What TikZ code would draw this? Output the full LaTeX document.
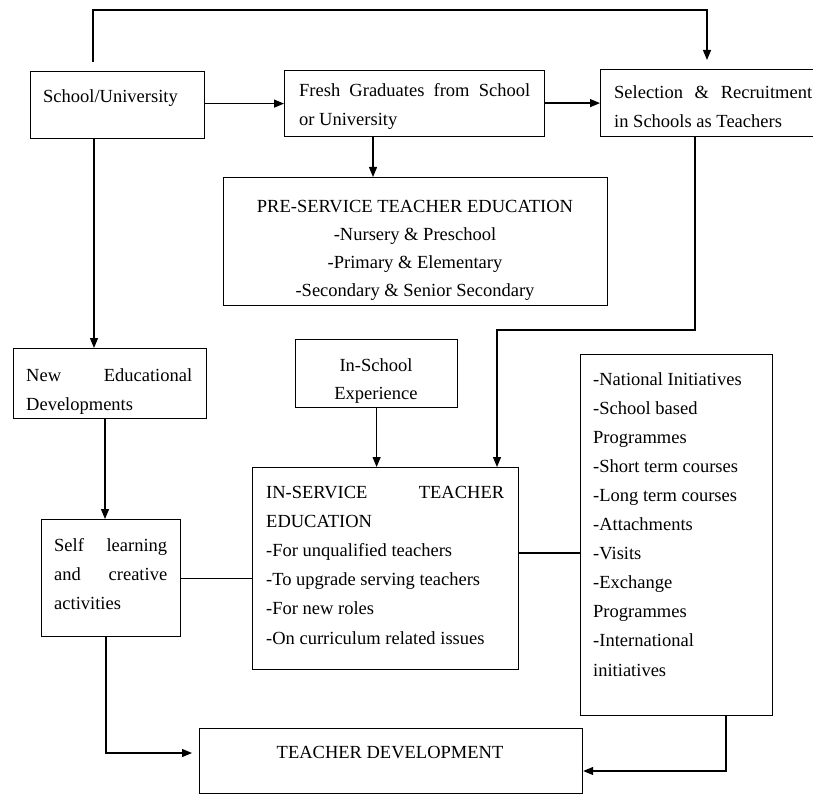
\documentclass[tikz,border=0pt]{standalone}
\usepackage{fontspec}
\setmainfont{Liberation Serif}
\usetikzlibrary{arrows.meta}
\begin{document}
\begin{tikzpicture}[x=1pt,y=-1pt,
  box/.style={draw, line width=1.2pt, inner sep=0pt, anchor=north west},
  txt/.style={inner sep=0pt, font=\fontsize{18.5}{29}\selectfont},
  con/.style={line width=1.2pt},
  arr/.style={line width=1.2pt, -{Triangle[length=10pt,width=8pt]}}]
\useasboundingbox (0,0) rectangle (813,794);

% boxes
\node[box, minimum width=174pt, minimum height=67pt] (su) at (30,71) {};
\node[box, minimum width=260pt, minimum height=66pt] (fg) at (284,70) {};
\node[box, minimum width=240pt, minimum height=67pt] (sel) at (600,69) {};
\node[box, minimum width=384pt, minimum height=128pt] (pre) at (223,177) {};
\node[box, minimum width=193pt, minimum height=70pt] (ned) at (13,348) {};
\node[box, minimum width=162pt, minimum height=68pt] (isx) at (295,339) {};
\node[box, minimum width=266pt, minimum height=202pt] (ise) at (252,467) {};
\node[box, minimum width=139pt, minimum height=117pt] (sl) at (41,519) {};
\node[box, minimum width=192pt, minimum height=361pt] (rb) at (580,354) {};
\node[box, minimum width=383pt, minimum height=65pt] (td) at (199,728) {};

% texts
\node[txt, anchor=base west] (tsu) at (43,103) {School/University};
\node[txt, anchor=base west] (tfg) at (299,97) {\vtop{\baselineskip=29pt
  \hbox to 231pt{Fresh\hfil Graduates\hfil from\hfil School}
  \hbox{or University}}};
\node[txt, anchor=base west] (tsel) at (614,99) {\vtop{\baselineskip=29pt
  \hbox to 198pt{Selection\hfil\&\hfil Recruitment}
  \hbox{in Schools as Teachers}}};
\node[txt, anchor=base] (tpre) at (415,213) {\vtop{\baselineskip=28pt
  \hbox to 370pt{\hfil PRE-SERVICE TEACHER EDUCATION\hfil}
  \hbox to 370pt{\hfil -Nursery \& Preschool\hfil}
  \hbox to 370pt{\hfil -Primary \& Elementary\hfil}
  \hbox to 370pt{\hfil -Secondary \& Senior Secondary\hfil}}};
\node[txt, anchor=base west] (tned) at (26,381) {\vtop{\baselineskip=29pt
  \hbox to 166pt{New\hfil Educational}
  \hbox{Developments}}};
\node[txt, anchor=base] (tisx) at (376,371) {\vtop{\baselineskip=28pt
  \hbox to 140pt{\hfil In-School\hfil}
  \hbox to 140pt{\hfil Experience\hfil}}};
\node[txt, anchor=base west] (tise) at (266,498) {\vtop{\baselineskip=29.2pt
  \hbox to 238pt{IN-SERVICE\hfil TEACHER}
  \hbox{EDUCATION}
  \hbox{-For unqualified teachers}
  \hbox{-To upgrade serving teachers}
  \hbox{-For new roles}
  \hbox{-On curriculum related issues}}};
\node[txt, anchor=base west] (tsl) at (54,551) {\vtop{\baselineskip=29pt
  \hbox to 113pt{Self\hfil learning}
  \hbox to 113pt{and\hfil creative}
  \hbox{activities}}};
\node[txt, anchor=base west] (trb) at (593,385) {\vtop{\baselineskip=29.1pt
  \hbox{-National Initiatives}
  \hbox{-School based}
  \hbox{Programmes}
  \hbox{-Short term courses}
  \hbox{-Long term courses}
  \hbox{-Attachments}
  \hbox{-Visits}
  \hbox{-Exchange}
  \hbox{Programmes}
  \hbox{-International}
  \hbox{initiatives}}};
\node[txt, anchor=base] (ttd) at (390,758) {TEACHER DEVELOPMENT};

% bend coordinates
\coordinate (t1) at (93,10);
\coordinate (t2) at (707,10);
\coordinate (c1) at (94,200);
\coordinate (c2) at (373,150);
\coordinate (c3) at (695,330);
\coordinate (c4) at (497,330);
\coordinate (c5) at (105,470);
\coordinate (c6) at (550,553);
\coordinate (c7) at (106,753);
\coordinate (c8) at (726,771);

% connectors
\draw[arr, shorten <=9pt, shorten >=9pt] (su.north -| t1) -- (t1) -- (t2) -- (sel.north -| t2);
\draw[arr] (su.east |- fg.west) -- (fg.west);
\draw[arr] (fg.east |- sel.west) -- (sel.west);
\draw[arr] (fg.south -| c2) -- (pre.north -| c2);
\draw[arr] (su.south -| c1) -- (ned.north -| c1);
\draw[arr] (sel.south -| c3) -- (c3) -- (c4) -- (ise.north -| c4);
\draw[arr] (isx.south) -- (ise.north -| isx.south);
\draw[arr] (ned.south -| c5) -- (sl.north -| c5);
\draw[con] (sl.east) -- (sl.east -| ise.west);
\draw[con] (ise.east |- c6) -- (rb.west |- c6);
\draw[arr, shorten >=7pt] (sl.south -| c7) -- (c7) -- (td.west |- c7);
\draw[arr] (rb.south -| c8) -- (c8) -- (td.east |- c8);
\end{tikzpicture}
\end{document}
